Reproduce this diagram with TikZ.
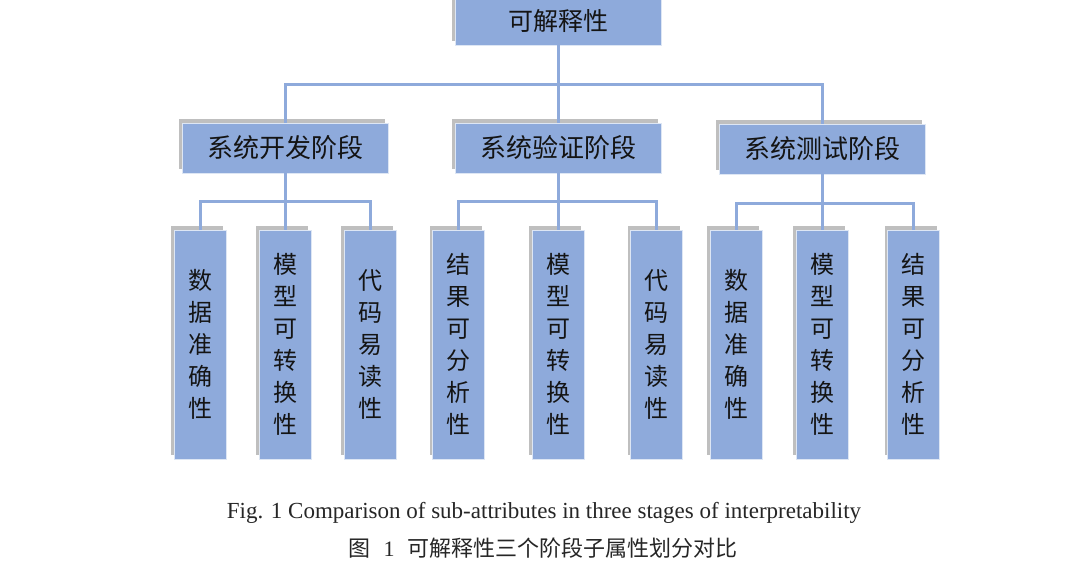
\documentclass[tikz,border=0pt]{standalone}
\usepackage{fontspec}
\setmainfont{Liberation Serif}
\newfontfamily\cjk{Noto Sans CJK SC}
\usetikzlibrary{shadows}
\definecolor{boxblue}{HTML}{8EAADB}
\definecolor{txt}{HTML}{141414}
\tikzset{
  box/.style={rectangle, fill=boxblue, draw=white!70!boxblue, line width=0.6pt, inner sep=0pt, text=txt,
    drop shadow={shadow xshift=-3pt, shadow yshift=4pt, fill=gray!50, opacity=1}},
  rootbox/.style={box, minimum width=206pt, minimum height=48pt, font=\cjk\fontsize{25}{30}\selectfont},
  stagebox/.style={box, minimum width=206pt, minimum height=50pt, font=\cjk\fontsize{26}{30}\selectfont},
  leafbox/.style={box, minimum width=52pt, minimum height=229pt, align=center, font=\cjk\fontsize{24}{32}\selectfont},
  conn/.style={draw=boxblue, line width=3pt},
}
\begin{document}
\begin{tikzpicture}[x=1pt,y=-1pt]
\useasboundingbox (0,0) rectangle (1080,580);
\clip (0,0) rectangle (1080,580);
\fill[white] (0,0) rectangle (1080,580);
% root
\node[rootbox] (root) at (558,21) {可解释性};
% stages
\node[stagebox] (A) at (285,148) {系统开发阶段};
\node[stagebox] (B) at (558,148) {系统验证阶段};
\node[stagebox] (C) at (822,149) {系统测试阶段};
% leaves
\node[leafbox] (a1) at (200,344.5) {数\\据\\准\\确\\性};
\node[leafbox] (a2) at (285,344.5) {模\\型\\可\\转\\换\\性};
\node[leafbox] (a3) at (370,344.5) {代\\码\\易\\读\\性};
\node[leafbox] (b1) at (458.5,344.5) {结\\果\\可\\分\\析\\性};
\node[leafbox] (b2) at (558,344.5) {模\\型\\可\\转\\换\\性};
\node[leafbox] (b3) at (656.5,344.5) {代\\码\\易\\读\\性};
\node[leafbox] (c1) at (736,344.5) {数\\据\\准\\确\\性};
\node[leafbox] (c2) at (822,344.5) {模\\型\\可\\转\\换\\性};
\node[leafbox] (c3) at (913.5,344.5) {结\\果\\可\\分\\析\\性};
% junctions
\coordinate (j0) at (558,85);
\coordinate (ja) at (285,202);
\coordinate (jb) at (558,202);
\coordinate (jc) at (822,204);
% connectors
\draw[conn] (root.south) -- (B.north);
\draw[conn] (A.north) |- (j0) -| (C.north);
\draw[conn] (A.south) -- (a2.north);
\draw[conn] (a1.north) |- (ja) -| (a3.north);
\draw[conn] (B.south) -- (b2.north);
\draw[conn] (b1.north) |- (jb) -| (b3.north);
\draw[conn] (C.south) -- (c2.north);
\draw[conn] (c1.north) |- (jc) -| (c3.north);
% captions
\node[text=black!85, font=\fontsize{23}{27}\selectfont] (cap1) at (544,513) {Fig. 1 Comparison of sub-attributes in three stages of interpretability};
\node[text=black!85, font=\fontsize{22}{26}\selectfont] (cap2) at (543,548) {{\cjk 图}\hspace{0.6em}1\hspace{0.6em}{\cjk 可解释性三个阶段子属性划分对比}};
\end{tikzpicture}
\end{document}
